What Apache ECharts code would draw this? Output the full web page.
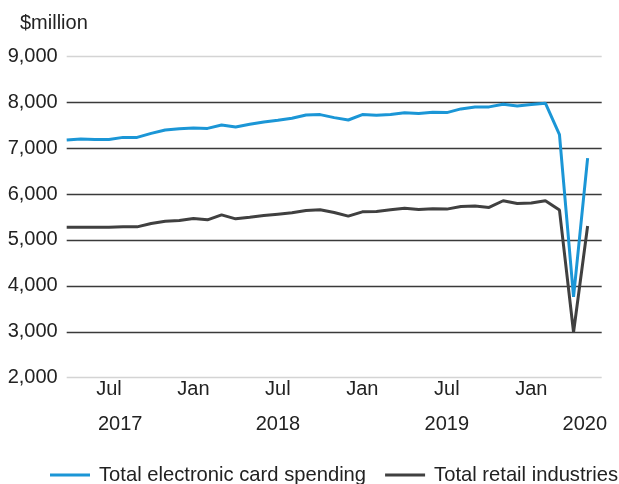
<!DOCTYPE html>
<html>
<head>
<meta charset="utf-8">
<script src="https://cdn.jsdelivr.net/npm/echarts@6/dist/echarts.min.js"></script>
<style>
html,body{margin:0;padding:0;background:#fff;}
#chart{width:619px;height:484px;}
</style>
</head>
<body>
<div id="chart"></div>
<script>
// Months: Apr 2017 .. May 2020
var months = ['2017-04','2017-05','2017-06','2017-07','2017-08','2017-09','2017-10','2017-11','2017-12',
  '2018-01','2018-02','2018-03','2018-04','2018-05','2018-06','2018-07','2018-08','2018-09','2018-10','2018-11','2018-12',
  '2019-01','2019-02','2019-03','2019-04','2019-05','2019-06','2019-07','2019-08','2019-09','2019-10','2019-11','2019-12',
  '2020-01','2020-02','2020-03','2020-04','2020-05'];
var cardSpending = [7175,7197,7190,7190,7234,7234,7321,7394,7423,7438,7430,7504,7460,
  7518,7569,7606,7650,7723,7730,7664,7613,7730,7715,7730,7770,
  7752,7781,7774,7854,7898,7898,7956,7920,7949,7978,7295,3760,6781];
var retailIndustries = [5277,5275,5277,5277,5290,5285,5358,5409,5423,5467,5438,5547,5460,
  5496,5533,5562,5591,5642,5657,5599,5518,5613,5620,5657,5693,
  5664,5679,5672,5730,5737,5708,5854,5796,5803,5854,5650,2990,5304];
var monthTickLabels = {3:'Jul',9:'Jan',15:'Jul',21:'Jan',27:'Jul',33:'Jan'};
// year labels keyed by position (tenths of a month index)
var yearTickLabels = {38:'2017',150:'2018',270:'2019',368:'2020'};
var seriesNames = ['Total electronic card spending','Total retail industries'];

var font = '"Liberation Sans", Arial, sans-serif';
function pts(arr){ return arr.map(function(v,i){ return [i, v]; }); }

var chart = echarts.init(document.getElementById('chart'), null, {renderer:'canvas'});
chart.setOption({
  animation:false,
  backgroundColor:'#ffffff',
  title:{text:'$million', left:15, top:8, textStyle:{fontFamily:font,fontSize:20,fontWeight:'normal',color:'#222'}},
  grid:{left:66.7, right:17.3, top:56.3, bottom:106.3},
  legend:{
    left:45, top:460, width:700, itemWidth:40, itemHeight:3, itemGap:19, icon:'rect',
    textStyle:{fontFamily:font,fontSize:20.2,color:'#222',padding:[0,0,0,4]},
    data:seriesNames
  },
  xAxis:[{
    type:'value', min:0, max:38, interval:1,
    axisLine:{show:false}, axisTick:{show:false}, splitLine:{show:false},
    axisLabel:{margin:2, fontFamily:font, fontSize:20, color:'#222',
      showMinLabel:true, showMaxLabel:true,
      formatter:function(v){ var k=Math.round(v); return monthTickLabels[k]||''; }}
  },{
    type:'value', min:0, max:38, interval:0.2, position:'bottom', offset:35,
    axisLine:{show:false}, axisTick:{show:false}, splitLine:{show:false},
    axisLabel:{margin:2, fontFamily:font, fontSize:20, color:'#222',
      formatter:function(v){ var k=Math.round(v*10); return yearTickLabels[k]||''; }}
  }],
  yAxis:{
    type:'value', min:2000, max:9000, interval:1000,
    axisLine:{show:false}, axisTick:{show:false},
    axisLabel:{margin:9, fontFamily:font, fontSize:20, color:'#222',
      formatter:function(v){ return v.toLocaleString('en-US'); }},
    splitLine:{show:true, lineStyle:{width:1.3, color:['#d4d4d4','#3a3a3a','#3a3a3a','#3a3a3a','#3a3a3a','#3a3a3a','#3a3a3a','#d4d4d4']}}
  },
  series:[{
    name:seriesNames[0], type:'line', xAxisIndex:0, data:pts(cardSpending),
    showSymbol:false, lineStyle:{color:'#1b96d6', width:3}, itemStyle:{color:'#1b96d6'}, z:3
  },{
    name:seriesNames[1], type:'line', xAxisIndex:0, data:pts(retailIndustries),
    showSymbol:false, lineStyle:{color:'#404040', width:3}, itemStyle:{color:'#404040'}, z:2
  }]
});
</script>
</body>
</html>
